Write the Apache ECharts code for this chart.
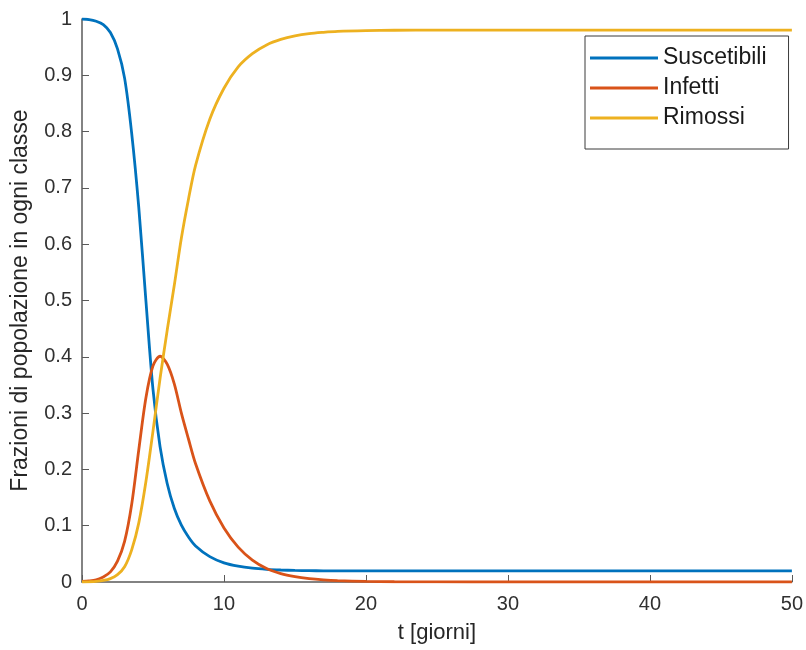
<!DOCTYPE html>
<html>
<head>
<meta charset="utf-8">
<script src="https://cdn.jsdelivr.net/npm/echarts@6/dist/echarts.min.js"></script>
<style>
    html, body { margin: 0; padding: 0; background: #fff; }
    #sirChart { width: 806px; height: 650px; }
</style>
</head>
<body>
<div id="sirChart"></div>
<script>
    //tempo in giorni
    var tDays = [0, 0.5, 1, 1.5, 2, 2.5, 3, 3.5, 4, 4.5, 5, 5.5, 6, 6.5, 7, 7.5, 8, 9, 10, 11, 12, 13, 14, 15, 16, 17, 18, 20, 22, 25, 30, 35, 40, 45, 50];

    //frazioni
    var suscetibili = [1.000, 0.999, 0.996, 0.990, 0.976, 0.947, 0.895, 0.797, 0.665, 0.500, 0.342, 0.240, 0.175, 0.131, 0.101, 0.080, 0.064, 0.045, 0.034, 0.028, 0.0245, 0.0225, 0.0213, 0.0205, 0.0201, 0.0199, 0.0197, 0.0196, 0.0196, 0.0196, 0.0196, 0.0196, 0.0196, 0.0196, 0.0196];
    var infetti = [0.001, 0.002, 0.004, 0.009, 0.018, 0.037, 0.072, 0.138, 0.235, 0.327, 0.384, 0.401, 0.387, 0.352, 0.300, 0.254, 0.210, 0.144, 0.096, 0.062, 0.039, 0.024, 0.015, 0.0095, 0.006, 0.0038, 0.0024, 0.001, 0.0004, 0.0001, 0, 0, 0, 0, 0];
    var rimossi = [0, 0.0004, 0.0011, 0.0027, 0.006, 0.013, 0.027, 0.057, 0.105, 0.178, 0.268, 0.362, 0.447, 0.527, 0.611, 0.680, 0.740, 0.822, 0.877, 0.915, 0.9385, 0.954, 0.9637, 0.970, 0.974, 0.9763, 0.978, 0.9794, 0.980, 0.9803, 0.9804, 0.9804, 0.9804, 0.9804, 0.9804];

    var seriesNames = ['Suscetibili', 'Infetti', 'Rimossi'];
    var colors = ['#0072BD', '#D95319', '#EDB120'];

    function pairs(values) {
        return tDays.map(function (t, i) { return [t, values[i]]; });
    }

    function lineSeries(name, values) {
        return {
            name: name,
            type: 'line',
            symbol: 'none',
            smooth: 0.3,
            lineStyle: { width: 2.8 },
            data: pairs(values)
        };
    }

    var font = 'Liberation Sans, Arial, Helvetica, sans-serif';
    var axisColor = '#5a5a5a';

    var sirChart = echarts.init(document.getElementById('sirChart'));
    var option = {
        color: colors,
        animation: false,
        grid: {
            left: 82,
            right: 11,
            top: 19,
            bottom: 68
        },
        legend: {
            orient: 'vertical',
            left: 585,
            top: 36,
            padding: [10, 22, 19, 5],
            borderColor: '#3a3a3a',
            borderWidth: 1,
            backgroundColor: '#fff',
            icon: 'rect',
            itemWidth: 68,
            itemHeight: 3,
            itemGap: 6,
            textStyle: {
                fontFamily: font,
                fontSize: 23,
                lineHeight: 24,
                color: '#1a1a1a'
            },
            data: seriesNames
        },
        xAxis: {
            type: 'value',
            min: 0,
            max: 50,
            interval: 10,
            name: 't [giorni]',
            nameLocation: 'middle',
            nameGap: 40,
            nameTextStyle: { fontFamily: font, fontSize: 22, color: '#262626' },
            axisLine: { lineStyle: { color: axisColor, width: 1.5 } },
            axisTick: { inside: true, length: 7, lineStyle: { color: axisColor } },
            axisLabel: { fontFamily: font, fontSize: 20, color: '#303030', margin: 12 },
            splitLine: { show: false }
        },
        yAxis: {
            type: 'value',
            min: 0,
            max: 1,
            interval: 0.1,
            name: 'Frazioni di popolazione in ogni classe',
            nameLocation: 'middle',
            nameGap: 50,
            nameTextStyle: { fontFamily: font, fontSize: 23, color: '#262626' },
            axisLine: { show: true, lineStyle: { color: axisColor, width: 1.5 } },
            axisTick: { show: true, inside: true, length: 7, lineStyle: { color: axisColor } },
            axisLabel: { fontFamily: font, fontSize: 20, color: '#303030', margin: 10 },
            splitLine: { show: false }
        },
        series: [
            lineSeries(seriesNames[0], suscetibili),
            lineSeries(seriesNames[1], infetti),
            lineSeries(seriesNames[2], rimossi)
        ]
    };
    sirChart.setOption(option);
</script>
</body>
</html>
